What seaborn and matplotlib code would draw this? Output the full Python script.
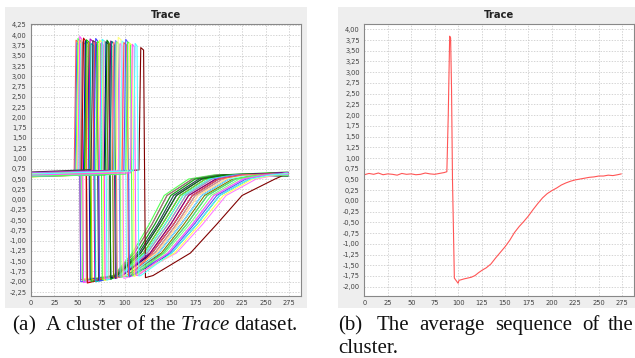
import numpy as np
import pandas as pd
import matplotlib
matplotlib.use("Agg")
import matplotlib.pyplot as plt
from matplotlib.patches import Rectangle
import seaborn as sns

# ---- data ----
# left panel: one entry per trace of the cluster
spike_on = [47, 48, 49, 50, 51, 52, 53, 54, 55, 57, 58, 60, 62, 63, 65, 67, 68, 70, 72, 74,
            75, 77, 116, 79, 80, 82, 84, 85, 87, 89, 90, 92, 94, 96, 98, 100, 102, 104, 107, 110]
spike_width = [5, 4, 5, 5, 4, 6, 5, 5, 4, 5, 5, 4, 5, 5, 6, 5, 4, 5, 5, 4,
               5, 5, 5, 5, 4, 5, 5, 5, 4, 5, 5, 5, 4, 5, 5, 4, 5, 5, 4, 4]
spike_top = [3.88, 3.82, 3.92, 3.85, 3.97, 3.80, 3.90, 3.84, 3.93, 3.86, 3.89, 3.83, 3.91, 3.80,
             3.87, 3.84, 3.92, 3.85, 3.88, 3.82, 3.90, 3.86, 3.70, 3.84, 3.88, 3.80, 3.86, 3.85,
             3.83, 3.87, 3.84, 3.95, 3.80, 3.86, 3.82, 3.90, 3.84, 3.81, 3.78, 3.80]
drop_bottom = [-1.95, -2.00, -1.97, -1.93, -2.02, -1.95, -1.98, -1.96, -2.03, -1.94, -1.99, -1.95,
               -1.97, -2.00, -1.96, -1.94, -1.98, -1.95, -1.97, -1.93, -1.96, -1.92, -1.90, -1.90,
               -1.94, -1.90, -1.92, -1.88, -1.90, -1.87, -1.89, -1.86, -1.92, -1.85, -1.86, -1.88,
               -1.85, -1.87, -1.84, -1.86]
base_start = [0.58, 0.63, 0.55, 0.66, 0.60, 0.62, 0.57, 0.65, 0.61, 0.59, 0.64, 0.56, 0.62, 0.60,
              0.67, 0.58, 0.63, 0.61, 0.55, 0.65, 0.60, 0.62, 0.58, 0.64, 0.57, 0.61, 0.66, 0.59,
              0.63, 0.56, 0.62, 0.60, 0.65, 0.58, 0.61, 0.64, 0.57, 0.63, 0.60, 0.62]
base_pre = [0.64, 0.70, 0.62, 0.68, 0.66, 0.72, 0.61, 0.69, 0.65, 0.63, 0.71, 0.60, 0.67, 0.66,
            0.73, 0.62, 0.68, 0.64, 0.61, 0.70, 0.66, 0.69, 0.72, 0.67, 0.60, 0.65, 0.71, 0.63,
            0.68, 0.62, 0.66, 0.64, 0.70, 0.61, 0.67, 0.69, 0.62, 0.68, 0.65, 0.70]
tail_end = [0.60, 0.64, 0.58, 0.66, 0.61, 0.63, 0.59, 0.65, 0.62, 0.57, 0.67, 0.60, 0.63, 0.61,
            0.65, 0.58, 0.64, 0.62, 0.59, 0.66, 0.60, 0.63, 0.61, 0.65, 0.58, 0.62, 0.66, 0.59,
            0.64, 0.60, 0.63, 0.61, 0.67, 0.59, 0.62, 0.65, 0.58, 0.64, 0.61, 0.63]
# recovery: x where each trace reaches these levels
rec_levels = [-1.85, -1.3, -0.6, 0.1, 0.5, 0.6]
rec_a = [89, 92, 88, 96, 90, 91, 98, 89, 94, 101, 90, 95, 92, 99, 91, 97, 103, 94, 96, 100,
         95, 106, 130, 98, 92, 102, 97, 108, 99, 96, 104, 100, 110, 104, 106, 107, 110, 112, 114, 117]
rec_b = [110, 117, 108, 124, 113, 115, 129, 110, 120, 136, 113, 122, 117, 132, 115, 127, 141, 120,
         124, 134, 122, 146, 170, 129, 117, 139, 127, 150, 132, 124, 143, 134, 155, 136, 129, 148,
         141, 153, 146, 150]
rec_c = [129, 137, 126, 146, 132, 135, 152, 129, 140, 160, 132, 143, 137, 155, 135, 149, 166, 140,
         146, 157, 143, 172, 198, 152, 137, 163, 149, 177, 155, 146, 169, 157, 183, 160, 152, 174,
         166, 180, 172, 177]
rec_d = [145, 155, 142, 165, 149, 152, 172, 145, 159, 182, 149, 162, 155, 175, 152, 168, 188, 159,
         165, 178, 162, 195, 225, 172, 155, 185, 168, 201, 175, 165, 192, 178, 208, 182, 172, 198,
         188, 205, 195, 201]
rec_e = [172, 182, 168, 193, 175, 179, 200, 172, 186, 211, 175, 190, 182, 204, 179, 197, 218, 186,
         193, 208, 190, 226, 260, 200, 182, 215, 197, 233, 204, 193, 222, 208, 240, 211, 200, 229,
         218, 236, 226, 233]
rec_f = [198, 208, 195, 218, 202, 205, 225, 198, 212, 235, 202, 215, 208, 229, 205, 222, 242, 212,
         218, 232, 215, 249, 270, 225, 208, 239, 222, 255, 229, 218, 245, 232, 262, 235, 225, 252,
         242, 259, 249, 255]
last_x = 274

# right panel: average sequence of the cluster
avg_x = [0, 5, 10, 15, 20, 25, 30, 35, 40, 45, 50, 55, 60, 65, 70, 75, 80, 85, 88, 89.5, 91, 92,
         93, 94, 96, 98, 100, 101, 103, 106, 110, 114, 118, 122, 126, 130, 135, 140, 145, 150,
         155, 160, 165, 170, 175, 180, 185, 190, 195, 200, 205, 210, 215, 220, 225, 230, 235,
         240, 245, 250, 255, 260, 265, 270, 274]
avg_y = [0.61, 0.64, 0.62, 0.65, 0.61, 0.63, 0.62, 0.60, 0.64, 0.62, 0.63, 0.61, 0.62, 0.65,
         0.63, 0.62, 0.64, 0.66, 0.68, 2.00, 3.84, 3.80, 2.60, 0.50, -1.80, -1.86, -1.92, -1.85,
         -1.84, -1.82, -1.80, -1.78, -1.74, -1.67, -1.61, -1.56, -1.47, -1.33, -1.20, -1.07,
         -0.92, -0.74, -0.60, -0.48, -0.35, -0.20, -0.06, 0.07, 0.17, 0.24, 0.30, 0.37, 0.42,
         0.46, 0.49, 0.51, 0.53, 0.55, 0.56, 0.58, 0.58, 0.60, 0.59, 0.61, 0.63]

# JFreeChart default series paint sequence
jfree_colors = ["#FF5555", "#5555FF", "#55FF55", "#FFFF55", "#FF55FF", "#55FFFF", "#FFAFAF",
                "#808080", "#C00000", "#0000C0", "#00C000", "#C0C000", "#C000C0", "#00C0C0",
                "#404040", "#FF4040", "#4040FF", "#40FF40", "#FFFF40", "#FF40FF", "#40FFFF",
                "#C0C0C0", "#800000", "#000080", "#008000", "#808000", "#800080", "#008080",
                "#FF8080", "#8080FF", "#80FF80", "#FFFF80", "#FF80FF", "#80FFFF"]

# ---- build long table of trace vertices ----
rows = []
for i, s in enumerate(spike_on):
    w = spike_width[i]
    xs = [0, s - 1, s + 1, s + w - 1, s + w + 1,
          rec_a[i], rec_b[i], rec_c[i], rec_d[i], rec_e[i], rec_f[i], last_x]
    ys = [base_start[i], base_pre[i], spike_top[i], spike_top[i] - 0.06, drop_bottom[i]] \
        + rec_levels + [tail_end[i]]
    for x, y in zip(xs, ys):
        rows.append((i, x, y))
df = pd.DataFrame(rows, columns=["trace", "x", "y"])
palette = [jfree_colors[i % len(jfree_colors)] for i in range(len(spike_on))]

sns.set_style("white")
plt.rcParams["font.family"] = ["DejaVu Sans"]
plt.rcParams["mathtext.fontset"] = "custom"
plt.rcParams["mathtext.rm"] = "Liberation Serif"
plt.rcParams["mathtext.it"] = "Liberation Serif:italic"

W, H = 635, 358
fig = plt.figure(figsize=(W / 100, H / 100), dpi=100)

def fx(px):
    return px / W

def fy(py):
    return 1 - py / H

# gray chart panels, behind the axes
for x0, x1 in [(5, 307), (338, 635)]:
    fig.patches.append(Rectangle((fx(x0), fy(308)), fx(x1 - x0), (308 - 7) / H,
                                 transform=fig.transFigure, facecolor="#EEEEEE",
                                 edgecolor="none", zorder=-5))

ax1 = fig.add_axes([fx(31), fy(296), fx(301 - 31), (296 - 24) / H])
ax2 = fig.add_axes([fx(364.3), fy(296), fx(634 - 364.3), (296 - 24.3) / H])

sns.lineplot(data=df, x="x", y="y", hue="trace", palette=palette, legend=False,
             estimator=None, sort=False, lw=0.8, ax=ax1)
sns.lineplot(x=avg_x, y=avg_y, color="#FF5555", lw=0.8, estimator=None, sort=False, ax=ax2)

ax1.set_xlim(0, 287.8)
ax1.set_ylim(-2.347, 4.274)
ax2.set_xlim(0, 287.5)
ax2.set_ylim(-2.217, 4.117)

yt1 = np.arange(-2.25, 4.26, 0.25)
yt2 = np.arange(-2.0, 4.01, 0.25)
xt = np.arange(0, 276, 25)
for ax, yt in [(ax1, yt1), (ax2, yt2)]:
    ax.set_facecolor("white")
    ax.set_xticks(xt)
    ax.set_xticklabels([str(v) for v in xt])
    ax.set_yticks(yt)
    ax.set_yticklabels([f"{v:.2f}".replace(".", ",").replace("-0,00", "0,00") for v in yt])
    ax.tick_params(axis="both", length=2, width=0.5, color="#808080", labelsize=4.8,
                   labelcolor="#404040", pad=1.2)
    ax.grid(True, color="#C4C4C4", lw=0.5, linestyle=(0, (2, 2)))
    ax.set_axisbelow(True)
    for sp in ax.spines.values():
        sp.set_color("#888888")
        sp.set_linewidth(0.8)
    ax.set_xlabel("")
    ax.set_ylabel("")

# chart titles
fig.text(fx(166), fy(15), "Trace", ha="center", va="center", fontsize=7.2,
         fontweight="bold", color="#222222")
fig.text(fx(499), fy(15), "Trace", ha="center", va="center", fontsize=7.2,
         fontweight="bold", color="#222222")

# captions
cap = dict(fontsize=15, family="Liberation Serif", va="baseline", ha="left", color="#111111")
fig.text(fx(12), fy(330), "(a)  A cluster of the $\\mathit{Trace}$ dataset.", **cap)
for word, px in [("(b)", 338), ("The", 377), ("average", 419), ("sequence", 495),
                 ("of", 582), ("the", 608)]:
    fig.text(fx(px), fy(330), word, **cap)
fig.text(fx(338), fy(352.7), "cluster.", **cap)

fig.savefig("out.png", dpi=100)
